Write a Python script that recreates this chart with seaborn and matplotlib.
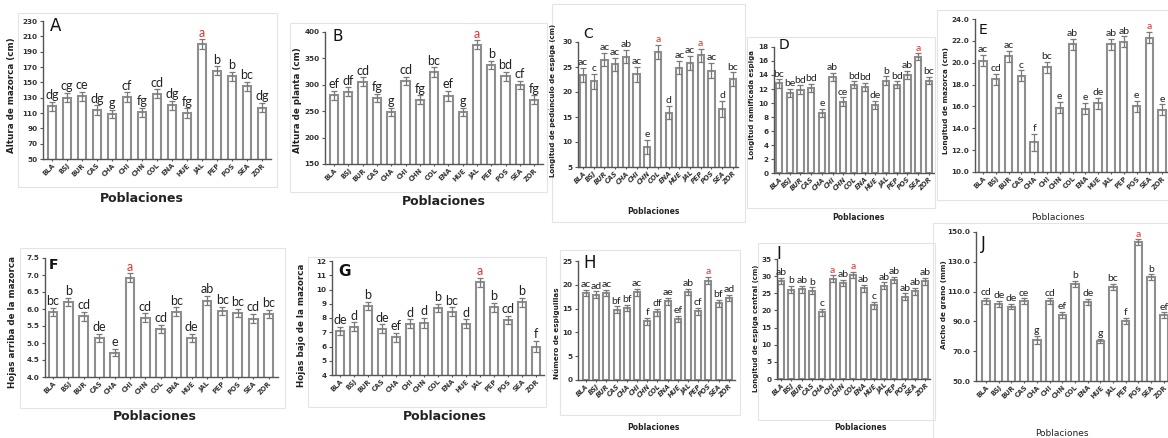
import numpy as np
import pandas as pd
import matplotlib
matplotlib.use("Agg")
import matplotlib.pyplot as plt
from matplotlib.patches import Rectangle
from matplotlib.ticker import FormatStrFormatter
import seaborn as sns

sns.set_theme(style="white")
plt.rcParams['font.family'] = ['DejaVu Sans']

cats = ['BLA', 'BSJ', 'BUR', 'CAS', 'CHA', 'CHI', 'CHN', 'COL', 'ENA', 'HUE', 'JAL', 'PEP', 'POS', 'SEA', 'ZOR']

A_vals = [119, 130, 132, 114, 109, 131, 111, 135, 120, 110, 200, 165, 158, 145, 117]
A_err = [6, 6, 6, 6, 5, 6, 6, 6, 6, 6, 6, 6, 6, 6, 6]
A_let = ['dg', 'cg', 'ce', 'dg', 'g', 'cf', 'fg', 'cd', 'dg', 'fg', 'a', 'b', 'b', 'bc', 'dg']

B_vals = [280, 287, 306, 275, 248, 307, 272, 324, 279, 249, 376, 337, 316, 300, 272]
B_err = [9, 8, 8, 8, 8, 8, 8, 9, 9, 8, 8, 8, 8, 8, 8]
B_let = ['ef', 'df', 'cd', 'fg', 'g', 'cd', 'fg', 'bc', 'ef', 'g', 'a', 'b', 'bd', 'cf', 'fg']

C_vals = [23.5, 22.2, 26.5, 25.6, 27.1, 23.6, 9.0, 28.0, 15.9, 24.9, 25.8, 27.4, 24.3, 16.6, 22.6]
C_err = [1.4, 1.5, 1.3, 1.3, 1.3, 1.5, 1.4, 1.4, 1.3, 1.3, 1.4, 1.3, 1.5, 1.6, 1.3]
C_let = ['ac', 'c', 'ac', 'ac', 'ab', 'ac', 'e', 'a', 'd', 'ac', 'ac', 'a', 'ac', 'd', 'bc']

D_vals = [12.8, 11.4, 11.9, 12.1, 8.6, 13.7, 10.2, 12.6, 12.3, 9.7, 13.2, 12.6, 14.0, 16.6, 13.2]
D_err = [0.6, 0.6, 0.6, 0.6, 0.6, 0.6, 0.6, 0.5, 0.6, 0.6, 0.6, 0.5, 0.6, 0.5, 0.5]
D_let = ['bc', 'be', 'bd', 'bd', 'e', 'ab', 'ce', 'bd', 'bd', 'de', 'b', 'bd', 'ab', 'a', 'bc']

E_vals = [20.2, 18.5, 20.6, 18.8, 12.7, 19.6, 15.9, 21.7, 15.8, 16.3, 21.7, 21.9, 16.0, 22.3, 15.7]
E_err = [0.5, 0.5, 0.5, 0.5, 0.8, 0.5, 0.5, 0.5, 0.5, 0.5, 0.5, 0.5, 0.5, 0.5, 0.5]
E_let = ['ac', 'cd', 'ac', 'c', 'f', 'bc', 'e', 'ab', 'e', 'de', 'ab', 'ab', 'e', 'a', 'e']

F_vals = [5.92, 6.20, 5.78, 5.15, 4.72, 6.92, 5.75, 5.42, 5.92, 5.15, 6.25, 5.95, 5.88, 5.72, 5.85]
F_err = [0.12, 0.12, 0.13, 0.11, 0.11, 0.13, 0.12, 0.12, 0.13, 0.11, 0.13, 0.12, 0.12, 0.13, 0.12]
F_let = ['bc', 'b', 'cd', 'de', 'e', 'a', 'cd', 'cd', 'bc', 'de', 'ab', 'bc', 'bc', 'cd', 'bc']

G_vals = [7.1, 7.4, 8.85, 7.25, 6.65, 7.6, 7.65, 8.7, 8.45, 7.6, 10.5, 8.75, 7.85, 9.1, 6.0]
G_err = [0.3, 0.3, 0.3, 0.3, 0.3, 0.3, 0.35, 0.3, 0.3, 0.3, 0.3, 0.3, 0.3, 0.3, 0.4]
G_let = ['de', 'd', 'b', 'de', 'ef', 'd', 'd', 'b', 'bc', 'd', 'a', 'b', 'cd', 'b', 'f']

H_vals = [18.3, 17.9, 18.3, 14.8, 15.1, 18.4, 12.3, 14.2, 16.5, 12.8, 18.5, 14.4, 20.9, 16.1, 17.2]
H_err = [0.7, 0.7, 0.7, 0.7, 0.7, 0.7, 0.7, 0.7, 0.7, 0.7, 0.7, 0.7, 0.7, 0.8, 0.7]
H_let = ['ac', 'ad', 'ac', 'bf', 'bf', 'ac', 'f', 'df', 'ae', 'ef', 'ab', 'cf', 'a', 'bf', 'ad']

I_vals = [28.6, 26.1, 26.2, 25.7, 19.5, 29.2, 28.0, 30.3, 26.5, 21.5, 27.2, 28.8, 24.0, 25.6, 28.5]
I_err = [1.0, 1.0, 1.0, 1.0, 1.0, 1.0, 0.9, 0.9, 1.0, 1.0, 1.0, 0.9, 1.0, 1.0, 1.0]
I_let = ['ab', 'b', 'ab', 'b', 'c', 'a', 'ab', 'a', 'ab', 'c', 'ab', 'ab', 'ab', 'ab', 'ab']

J_vals = [104, 102, 100, 103.5, 77.5, 103.5, 94.5, 115, 103, 77, 113, 90.5, 143, 119.5, 94]
J_err = [2, 2, 2, 2, 3, 2, 2, 2, 2, 1.5, 2, 2, 2, 2, 2]
J_let = ['cd', 'de', 'de', 'ce', 'g', 'cd', 'ef', 'b', 'de', 'g', 'bc', 'f', 'a', 'b', 'ef']

# red-highlighted letters (index of population)
A_red = [10]; B_red = [10]; C_red = [7, 11]; D_red = [13]; E_red = [13]
F_red = [5]; G_red = [10]; H_red = [12]; I_red = [5, 7]; J_red = [12]

W, H = 1168, 438
fig = plt.figure(figsize=(W / 100, H / 100), dpi=100)


def fx(x):
    return x / W


def fy(y):
    return 1 - y / H


# light panel frames
frames = [(18, 13, 277, 187), (290, 23, 547, 192), (552, 4, 745, 222), (747, 37, 935, 208),
          (937, 10, 1175, 200), (20, 248, 285, 408), (308, 257, 546, 407), (560, 250, 740, 415),
          (758, 243, 935, 420), (933, 223, 1175, 445)]
for (x0, y0, x1, y1) in frames:
    fig.patches.append(Rectangle((fx(x0), fy(y1)), (x1 - x0) / W, (y1 - y0) / H,
                                 transform=fig.transFigure, fill=False,
                                 edgecolor='#e4e4e4', linewidth=0.8))

panels = [
    dict(v=A_vals, e=A_err, l=A_let, r=A_red, ax0=43, top=21, bot=159, sp=15.0, xl=-0.6,
         ylim=(50, 230), ticks=np.arange(50, 231, 20), fmt='%d', tag='A', tagxy=(50, 17), tagfs=12, tagbold=False,
         ylab='Altura de mazorca (cm)', ylx=12, yly=95, ylfs=6.3,
         xlab='Poblaciones', xlxy=(142, 198), xlfs=9, xlbold=True, lfs=9, ital=False),
    dict(v=B_vals, e=B_err, l=B_let, r=B_red, ax0=325, top=32, bot=164, sp=14.3, xl=-0.63,
         ylim=(150, 400), ticks=np.arange(150, 401, 50), fmt='%d', tag='B', tagxy=(333, 29), tagfs=11, tagbold=False,
         ylab='Altura de planta (cm)', ylx=297, yly=100, ylfs=6.3,
         xlab='Poblaciones', xlxy=(444, 202), xlfs=9, xlbold=True, lfs=9, ital=False),
    dict(v=C_vals, e=C_err, l=C_let, r=C_red, ax0=578, top=42, bot=167, sp=10.7, xl=-0.47,
         ylim=(5, 30), ticks=np.arange(5, 31, 5), fmt='%d', tag='C', tagxy=(583, 27), tagfs=10, tagbold=False,
         ylab='Longitud de pedúnculo de espiga (cm)', ylx=553, yly=100, ylfs=5.0,
         xlab='Poblaciones', xlxy=(653, 212), xlfs=5.5, xlbold=True, lfs=7.5, ital=True),
    dict(v=D_vals, e=D_err, l=D_let, r=D_red, ax0=774, top=47, bot=173, sp=10.7, xl=-0.47,
         ylim=(0, 18), ticks=np.arange(0, 19, 2), fmt='%d', tag='D', tagxy=(779, 38), tagfs=10, tagbold=False,
         ylab='Longitud ramificada espiga', ylx=752, yly=105, ylfs=5.0,
         xlab='Poblaciones', xlxy=(858, 217), xlfs=5.5, xlbold=True, lfs=7.5, ital=True),
    dict(v=E_vals, e=E_err, l=E_let, r=E_red, ax0=975, top=19, bot=172, sp=12.8, xl=-0.62,
         ylim=(10, 24), ticks=np.arange(10, 24.1, 2), fmt='%.1f', tag='E', tagxy=(979, 23), tagfs=10, tagbold=False,
         ylab='Longitud de mazorca (cm)', ylx=946, yly=100, ylfs=5.2,
         xlab='Poblaciones', xlxy=(1058, 217), xlfs=6.5, xlbold=False, lfs=7.5, ital=False),
    dict(v=F_vals, e=F_err, l=F_let, r=F_red, ax0=45, top=258, bot=377, sp=15.4, xl=-0.52,
         ylim=(4.0, 7.5), ticks=np.arange(4.0, 7.51, 0.5), fmt='%.1f', tag='F', tagxy=(49, 258), tagfs=10, tagbold=True,
         ylab='Hojas arriba de la mazorca', ylx=13, yly=322, ylfs=6.3,
         xlab='Poblaciones', xlxy=(155, 417), xlfs=9, xlbold=True, lfs=9, ital=False),
    dict(v=G_vals, e=G_err, l=G_let, r=G_red, ax0=332, top=261, bot=375, sp=14.0, xl=-0.57,
         ylim=(4, 12), ticks=np.arange(4, 13, 1), fmt='%d', tag='G', tagxy=(338, 264), tagfs=11, tagbold=True,
         ylab='Hojas bajo de la mazorca', ylx=302, yly=325, ylfs=6.3,
         xlab='Poblaciones', xlxy=(445, 417), xlfs=9, xlbold=True, lfs=9, ital=False),
    dict(v=H_vals, e=H_err, l=H_let, r=H_red, ax0=578, top=261, bot=380, sp=10.2, xl=-0.78,
         ylim=(0, 25), ticks=np.arange(0, 26, 5), fmt='%d', tag='H', tagxy=(583, 254), tagfs=12, tagbold=False,
         ylab='Número de espiguillas', ylx=557, yly=333, ylfs=5.2,
         xlab='Poblaciones', xlxy=(653, 427), xlfs=5.5, xlbold=True, lfs=7.5, ital=True),
    dict(v=I_vals, e=I_err, l=I_let, r=I_red, ax0=777, top=259, bot=379, sp=10.3, xl=-0.4,
         ylim=(0, 35), ticks=np.arange(0, 36, 5), fmt='%d', tag='I', tagxy=(776, 245), tagfs=12, tagbold=False,
         ylab='Longitud de espiga central (cm)', ylx=756, yly=328, ylfs=5.0,
         xlab='Poblaciones', xlxy=(860, 428), xlfs=5.5, xlbold=True, lfs=7.5, ital=True),
    dict(v=J_vals, e=J_err, l=J_let, r=J_red, ax0=976, top=232, bot=381, sp=12.7, xl=-0.79,
         ylim=(50, 150), ticks=np.arange(50, 151, 20), fmt='%.1f', tag='J', tagxy=(981, 235), tagfs=12, tagbold=False,
         ylab='Ancho de grano (mm)', ylx=944, yly=305, ylfs=5.2,
         xlab='Poblaciones', xlxy=(1062, 433), xlfs=6.5, xlbold=False, lfs=7.5, ital=False),
]

for p in panels:
    xr = 14.5 if p['xl'] > -0.5 else 14.6
    width_px = (xr - p['xl']) * p['sp']
    ax = fig.add_axes([fx(p['ax0']), fy(p['bot']), width_px / W, (p['bot'] - p['top']) / H])
    df = pd.DataFrame({'Poblacion': cats, 'valor': p['v']})
    sns.barplot(data=df, x='Poblacion', y='valor', order=cats, color='white', saturation=1,
                edgecolor='#8e8e8e', linewidth=1.5, width=0.58, errorbar=None, ax=ax)
    pos = np.arange(len(cats))
    ax.errorbar(pos, p['v'], yerr=p['e'], fmt='none', ecolor='#7a7a7a', elinewidth=0.9,
                capsize=2.0, capthick=0.9)
    for i, (val, err, let) in enumerate(zip(p['v'], p['e'], p['l'])):
        ax.annotate(let, (i, val + err), xytext=(0, 0.5), textcoords='offset points',
                    ha='center', va='bottom', fontsize=p['lfs'], family='Lato',
                    color='#e8302a' if i in p['r'] else '#222222', annotation_clip=False)
    ax.set_xlim(p['xl'], xr)
    ax.set_ylim(*p['ylim'])
    ax.set_yticks(p['ticks'])
    ax.yaxis.set_major_formatter(FormatStrFormatter(p['fmt']))
    ax.set_xlabel('')
    ax.set_ylabel('')
    ax.set_xticks(pos)
    ax.set_xticklabels(cats, rotation=45, ha='right', rotation_mode='anchor',
                       fontsize=4.8, fontweight='bold', color='#333333',
                       fontstyle='italic' if p['ital'] else 'normal')
    for t in ax.get_yticklabels():
        t.set_fontsize(5.2)
        t.set_fontweight('bold')
        t.set_color('#333333')
    ax.tick_params(axis='y', which='major', length=2.5, width=0.8, direction='out', pad=1.5,
                   left=True, color='#555555')
    ax.tick_params(axis='x', which='major', length=2.5, width=0.8, direction='inout', pad=1.0,
                   bottom=True, color='#555555')
    for s in ['top', 'right']:
        ax.spines[s].set_visible(False)
    for s in ['left', 'bottom']:
        ax.spines[s].set_color('#555555')
        ax.spines[s].set_linewidth(1.0)
    ax.set_facecolor('none')
    ax.grid(False)

    fig.text(fx(p['tagxy'][0]), fy(p['tagxy'][1]), p['tag'], ha='left', va='top',
             fontsize=p['tagfs'], fontweight='bold' if p['tagbold'] else 'normal',
             color='#111111')
    fig.text(fx(p['ylx']), fy(p['yly']), p['ylab'], rotation=90, ha='center', va='center',
             fontsize=p['ylfs'], fontweight='bold', color='#222222')
    fig.text(fx(p['xlxy'][0]), fy(p['xlxy'][1]), p['xlab'], ha='center', va='center',
             fontsize=p['xlfs'], fontweight='bold' if p['xlbold'] else 'normal', color='#222222')

fig.savefig('out.png', dpi=100, facecolor='white')
